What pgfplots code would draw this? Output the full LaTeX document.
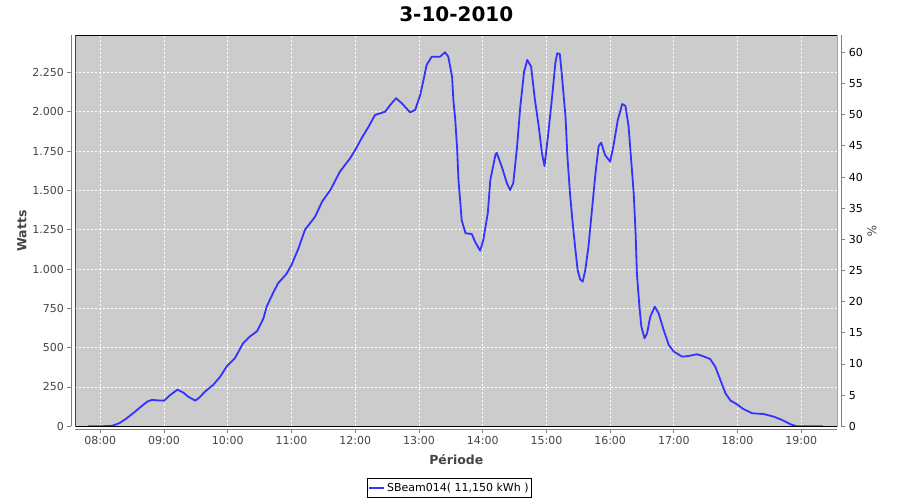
\documentclass[border=0pt]{standalone}
\usepackage{fontspec}
\setmainfont{DejaVu Sans}
\usepackage{pgfplots}
\pgfplotsset{compat=1.18}
\definecolor{plotbg}{RGB}{204,204,204}
\definecolor{curve}{RGB}{51,51,255}
\definecolor{axgray}{RGB}{128,128,128}
\definecolor{lblgray}{RGB}{68,68,68}
\begin{document}
\begin{tikzpicture}
\useasboundingbox (-75.3pt,-73.7pt) rectangle (824.7pt,426.3pt);
\begin{axis}[
  at={(0,0)}, anchor=south west,
  scale only axis, width=762pt, height=391pt,
  xmin=7.607, xmax=19.565, ymin=0, ymax=2487,
  axis background/.style={fill=plotbg},
  axis x line*=bottom, axis y line*=left,
  axis x line shift=3pt, axis y line shift=4pt,
  axis line style={axgray, line width=0.8pt, -},
  tick style={axgray, line width=0.8pt},
  tick align=outside, major tick length=4pt,
  xtick={8,9,...,19},
  xticklabels={08:00,09:00,10:00,11:00,12:00,13:00,14:00,15:00,16:00,17:00,18:00,19:00},
  ytick={0,250,...,2250},
  /pgf/number format/.cd, 1000 sep={.}, assume math mode=true, /pgfplots/.cd,
  scaled y ticks=false,
  ticklabel style={font=\fontsize{11}{13}\selectfont, text=lblgray},
  grid=major,
  major grid style={white, line width=0.8pt, dash pattern=on 2pt off 2pt},
  xlabel={Période}, ylabel={Watts},
  xlabel style={at={(axis description cs:0.5,-0.086)}, anchor=center, font=\bfseries\fontsize{12.5}{14}\selectfont, text=lblgray},
  ylabel style={at={(axis description cs:-0.07,0.5)}, anchor=center, font=\bfseries\fontsize{12.5}{14}\selectfont, text=lblgray},
  title={3-10-2010},
  title style={at={(axis description cs:0.5,1.039)}, anchor=center, font=\bfseries\fontsize{20}{24}\selectfont},
  legend style={at={(axis description cs:0.491,-0.132)}, anchor=north, draw=black, fill=white,
    font=\fontsize{11}{13}\selectfont, inner xsep=1pt, inner ysep=2.5pt, line width=1pt},
  legend image code/.code={\draw[#1] (0pt,0pt) -- (15pt,0pt);},
]
\addplot[curve, line width=1.8pt, line join=round] table {
7.81 0
8.00 0
8.15 2
8.20 5
8.30 20
8.41 50
8.52 85
8.65 129
8.74 158
8.81 168
8.90 165
9.00 163
9.10 200
9.21 233
9.30 215
9.38 188
9.49 163
9.56 185
9.64 220
9.77 263
9.88 315
9.98 379
10.11 432
10.24 528
10.35 572
10.46 605
10.56 687
10.61 761
10.72 856
10.79 910
10.92 969
11.00 1026
11.11 1132
11.21 1249
11.37 1333
11.48 1429
11.61 1503
11.76 1620
11.92 1705
12.00 1758
12.10 1832
12.21 1906
12.31 1980
12.47 2001
12.55 2044
12.64 2087
12.73 2055
12.86 1997
12.94 2012
13.02 2108
13.07 2200
13.12 2298
13.20 2351
13.33 2351
13.41 2379
13.46 2351
13.52 2224
13.54 2076
13.57 1948
13.60 1758
13.62 1567
13.65 1418
13.67 1312
13.73 1228
13.83 1223
13.88 1174
13.96 1117
14.01 1185
14.08 1355
14.12 1567
14.20 1726
14.22 1740
14.30 1651
14.38 1546
14.43 1503
14.48 1546
14.54 1779
14.59 2033
14.65 2256
14.70 2330
14.76 2288
14.82 2076
14.88 1906
14.93 1737
14.97 1656
15.03 1864
15.09 2097
15.14 2309
15.17 2373
15.21 2368
15.24 2246
15.30 1969
15.33 1715
15.37 1482
15.41 1302
15.45 1143
15.49 994
15.53 935
15.57 920
15.61 994
15.66 1143
15.71 1355
15.77 1609
15.82 1783
15.86 1804
15.92 1726
16.00 1683
16.05 1779
16.12 1948
16.19 2050
16.24 2038
16.29 1906
16.33 1694
16.37 1482
16.40 1228
16.42 973
16.46 761
16.49 634
16.54 560
16.58 592
16.63 697
16.70 761
16.76 719
16.84 613
16.92 517
17.00 475
17.13 443
17.23 447
17.36 458
17.41 453
17.57 428
17.65 379
17.73 295
17.81 210
17.89 163
17.99 140
18.09 110
18.23 83
18.41 78
18.57 61
18.70 40
18.83 13
18.93 0
19.34 0
};
\addlegendentry{SBeam014( 11,150 kWh )}
\draw[black, line width=0.9pt] (rel axis cs:0,0) rectangle (rel axis cs:1,1);
\end{axis}
\begin{axis}[
  at={(0,0)}, anchor=south west,
  scale only axis, width=762pt, height=391pt,
  xmin=7.607, xmax=19.565, ymin=0, ymax=62.74,
  axis x line=none, axis y line*=right, axis y line shift=4pt,
  axis line style={axgray, line width=0.8pt, -},
  tick style={axgray, line width=0.8pt},
  tick align=outside, major tick length=4pt,
  ytick={0,5,...,60},
  /pgf/number format/.cd, assume math mode=true, /pgfplots/.cd,
  ticklabel style={font=\fontsize{11}{13}\selectfont, text=black},
  ylabel={\%},
  ylabel style={at={(axis description cs:1.0455,0.5)}, anchor=center, rotate=180, font=\fontsize{12}{14}\selectfont, text=lblgray},
]
\end{axis}
\end{tikzpicture}
\end{document}
